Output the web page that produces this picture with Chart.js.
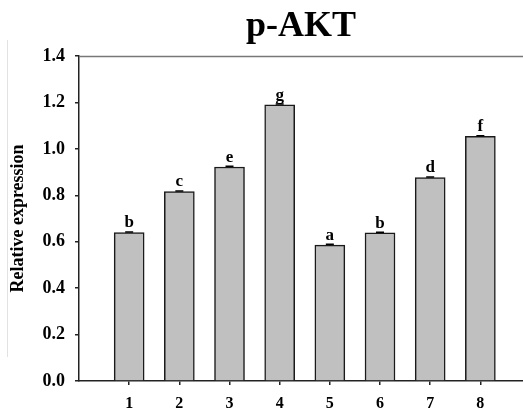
<!DOCTYPE html>
<html>
<head>
<meta charset="utf-8">
<script src="https://cdn.jsdelivr.net/npm/chart.js@4/dist/chart.umd.min.js"></script>
<style>
html,body{margin:0;padding:0;background:#fff;}
#wrap{width:523px;height:415px;position:relative;}
</style>
</head>
<body>
<div id="wrap"><canvas id="c" width="523" height="415"></canvas></div>
<script>
const categories = [1, 2, 3, 4, 5, 6, 7, 8];
const values = [0.639, 0.816, 0.922, 1.190, 0.585, 0.638, 0.876, 1.054];
const errors = [0.003, 0.003, 0.003, 0.003, 0.004, 0.003, 0.003, 0.003];
const letters = ['b', 'c', 'e', 'g', 'a', 'b', 'd', 'f'];
const yTicks = [0.0, 0.2, 0.4, 0.6, 0.8, 1.0, 1.2, 1.4];
const chartTitle = 'p-AKT';

const serif = "'Liberation Serif','Times New Roman',serif";

const decor = {
  id: 'decor',
  afterDatasetsDraw(chart) {
    const ctx = chart.ctx;
    const a = chart.chartArea;
    const xs = chart.scales.x, ys = chart.scales.y;
    ctx.save();
    // top border
    ctx.strokeStyle = '#777';
    ctx.lineWidth = 1.5;
    ctx.beginPath();
    ctx.moveTo(a.left, a.top + 0.5);
    ctx.lineTo(a.right, a.top + 0.5);
    ctx.stroke();
    // faint scan line at left
    ctx.strokeStyle = '#e2e2e2';
    ctx.lineWidth = 1;
    ctx.beginPath();
    ctx.moveTo(7.5, 40);
    ctx.lineTo(7.5, 357);
    ctx.stroke();
    // title centred over plot area
    ctx.fillStyle = '#000';
    ctx.font = 'bold 36px ' + serif;
    ctx.textAlign = 'center';
    ctx.textBaseline = 'alphabetic';
    ctx.fillText(chartTitle, (a.left + a.right) / 2, 36);
    // error bars and letters
    ctx.strokeStyle = '#000';
    ctx.font = 'bold 17px ' + serif;
    categories.forEach((c, i) => {
      const x = xs.getPixelForValue(c);
      const yTop = ys.getPixelForValue(values[i] + errors[i]);
      const yBar = ys.getPixelForValue(values[i]);
      ctx.lineWidth = 1.5;
      ctx.beginPath();
      ctx.moveTo(x - 4, yTop);
      ctx.lineTo(x + 4, yTop);
      ctx.moveTo(x, yTop);
      ctx.lineTo(x, yBar);
      ctx.stroke();
      ctx.fillText(letters[i], x, yTop - 4.5);
    });
    ctx.restore();
  }
};

new Chart(document.getElementById('c'), {
  type: 'bar',
  data: {
    datasets: [{
      data: categories.map((c, i) => ({x: c, y: values[i]})),
      backgroundColor: '#c0c0c0',
      borderColor: '#1a1a1a',
      borderWidth: 1.5,
      barThickness: 30
    }]
  },
  options: {
    responsive: false,
    animation: false,
    devicePixelRatio: 1,
    layout: {padding: {left: 0, right: 0, top: 56, bottom: 0}},
    plugins: {
      legend: {display: false},
      tooltip: {enabled: false},
      title: {display: false}
    },
    scales: {
      x: {
        type: 'linear',
        offset: false,
        min: 0,
        max: 8.85,
        afterBuildTicks: (s) => { s.ticks = categories.map(v => ({value: v})); },
        afterFit: (s) => { s.height = 34; },
        grid: {offset: false, drawOnChartArea: false, drawTicks: true, tickLength: 4, color: '#222', lineWidth: 1.5},
        border: {display: true, color: '#222', width: 1.5},
        ticks: {
          color: '#000',
          font: {family: serif, size: 16, weight: 'bold'},
          padding: 9,
          maxRotation: 0,
          autoSkip: false,
          callback: (v) => String(v)
        }
      },
      y: {
        min: 0,
        max: 1.4,
        afterBuildTicks: (s) => { s.ticks = yTicks.map(v => ({value: v})); },
        afterFit: (s) => { s.width = 79; },
        grid: {drawOnChartArea: false, drawTicks: true, tickLength: 4, color: '#222', lineWidth: 1.5},
        border: {display: true, color: '#222', width: 1.5},
        ticks: {
          color: '#000',
          font: {family: serif, size: 18, weight: 'bold'},
          padding: 10,
          callback: (v) => Number(v).toFixed(1)
        },
        title: {
          display: true,
          text: 'Relative expression',
          color: '#000',
          font: {family: serif, size: 18, weight: 'bold'},
          padding: {top: 8, bottom: 0}
        }
      }
    }
  },
  plugins: [decor]
});
</script>
</body>
</html>
